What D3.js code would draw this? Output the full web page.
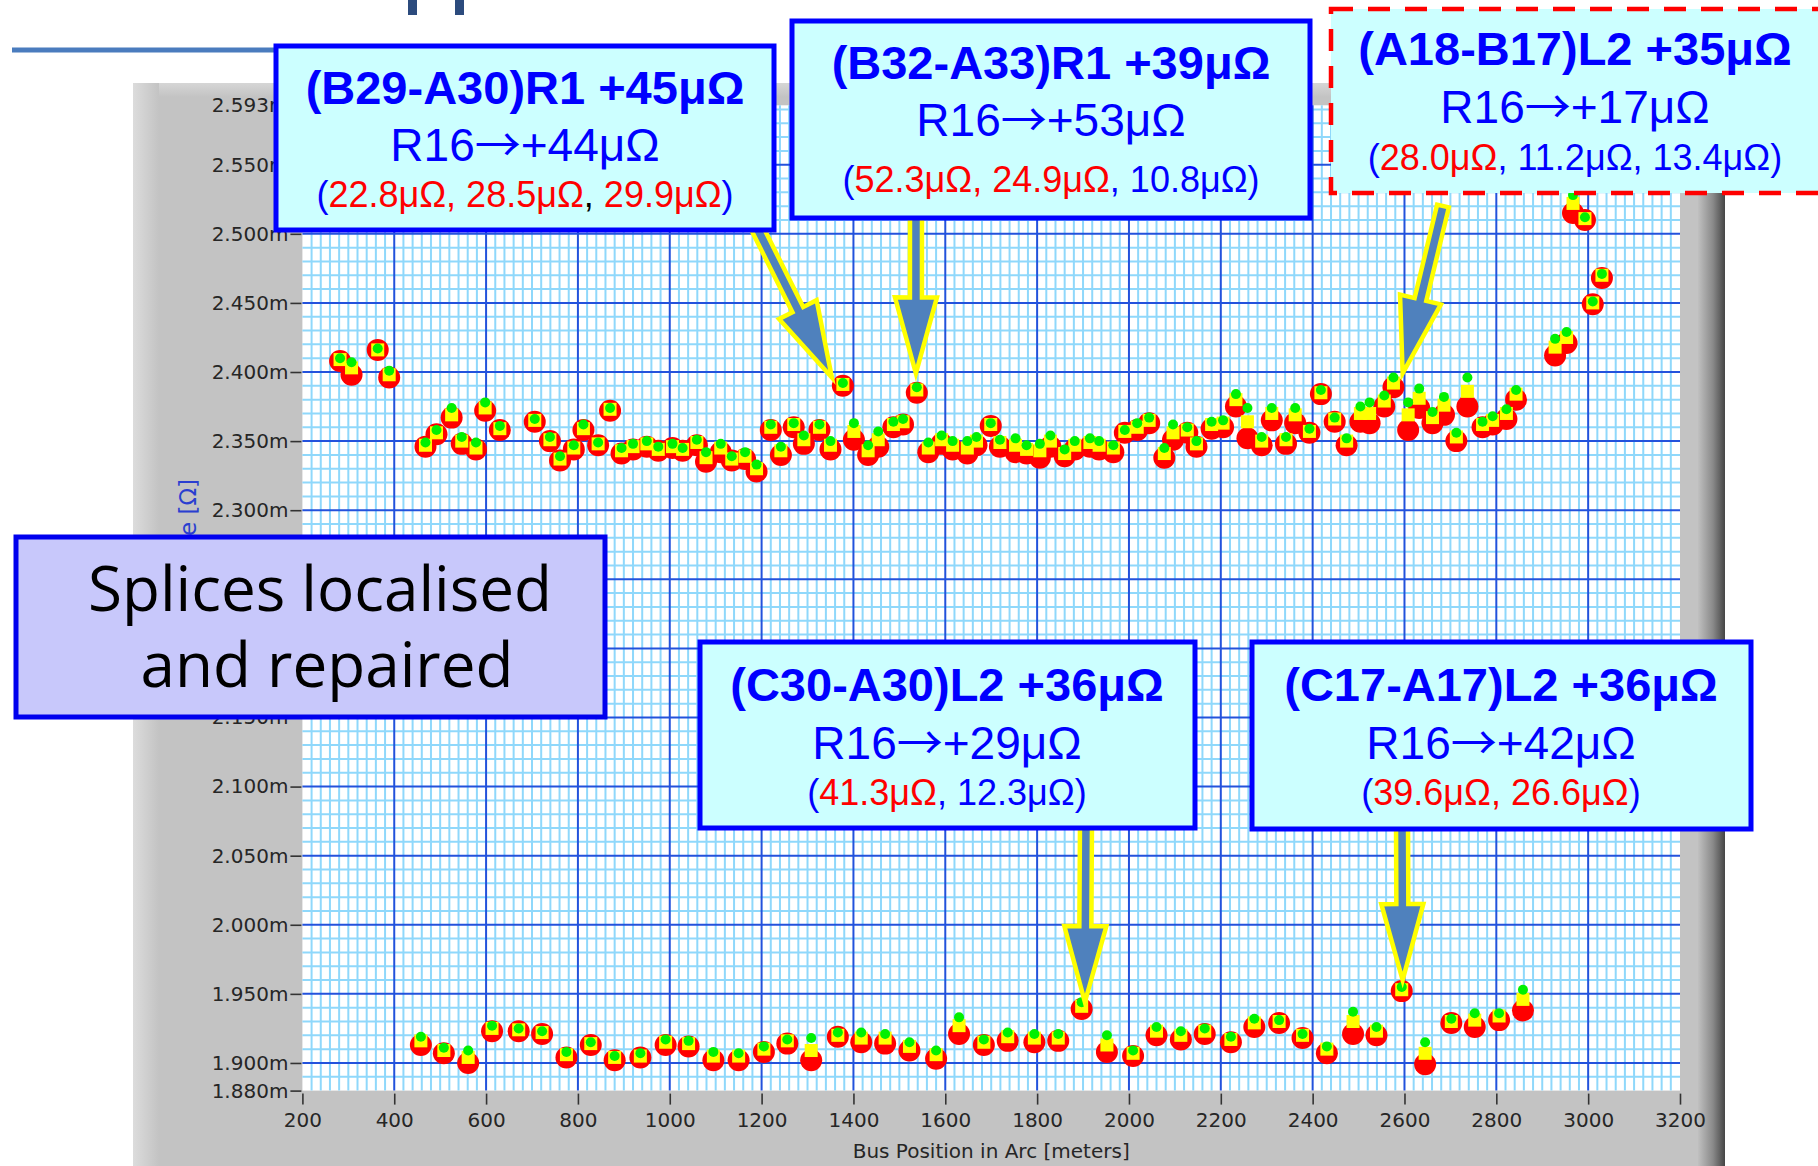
<!DOCTYPE html>
<html>
<head>
<meta charset="utf-8">
<script src="https://cdn.jsdelivr.net/npm/d3@7"></script>
<style>
  html, body { margin: 0; padding: 0; background: #fff; }
  svg { display: block; }
  text { white-space: pre; }
</style>
</head>
<body>
<svg id="chart" width="1818" height="1166"></svg>
<script>
// ---- Bus resistance per position (mΩ), three passes: red / yellow / green ----
// Upper band: R-line buses
const upperPos = [282,307,364,389,468,492,525,547,578,598,630,706,739,761,791,812,844,870,895,920,950,975,1006,1028,1059,1079,1111,1135,1164,1189,1220,1242,1270,1292,1326,1350,1377,1401,1432,1454,1487,1508,1538,1563,1592,1616,1648,1668,1699,1719,1753,1777,1806,1829,1860,1882,1915,1935,1966,1991,2018,2044,2077,2096,2127,2147,2180,2205,2233,2258,2289,2311,2342,2362,2393,2418,2448,2474,2504,2524,2556,2576,2608,2632,2661,2686,2713,2737,2770,2792,2822,2843,2928,2953,2967,2993,3010,3030];
const upperRed = [2.408,2.398,2.416,2.396,2.346,2.355,2.367,2.348,2.344,2.372,2.358,2.364,2.350,2.336,2.344,2.358,2.347,2.372,2.341,2.344,2.346,2.343,2.345,2.343,2.347,2.335,2.342,2.336,2.337,2.328,2.358,2.340,2.360,2.348,2.358,2.344,2.390,2.351,2.340,2.346,2.360,2.362,2.385,2.342,2.348,2.344,2.341,2.347,2.361,2.346,2.342,2.341,2.338,2.346,2.339,2.344,2.346,2.344,2.342,2.356,2.358,2.363,2.338,2.351,2.356,2.346,2.359,2.360,2.375,2.352,2.347,2.365,2.348,2.363,2.356,2.384,2.364,2.347,2.364,2.363,2.375,2.389,2.358,2.374,2.363,2.369,2.350,2.375,2.360,2.362,2.366,2.380,2.412,2.421,2.515,2.510,2.449,2.468];
const upperYellow = [2.409,2.403,2.416,2.398,2.347,2.356,2.369,2.350,2.345,2.374,2.359,2.365,2.351,2.337,2.345,2.359,2.348,2.373,2.343,2.346,2.348,2.344,2.346,2.344,2.349,2.338,2.345,2.337,2.339,2.330,2.360,2.343,2.362,2.351,2.360,2.347,2.391,2.357,2.343,2.351,2.362,2.364,2.387,2.345,2.351,2.347,2.345,2.350,2.362,2.349,2.347,2.344,2.343,2.350,2.341,2.347,2.349,2.347,2.345,2.357,2.360,2.365,2.341,2.356,2.358,2.348,2.362,2.363,2.380,2.364,2.350,2.370,2.351,2.369,2.357,2.385,2.366,2.350,2.370,2.370,2.379,2.392,2.369,2.381,2.367,2.376,2.353,2.386,2.362,2.365,2.370,2.384,2.418,2.425,2.522,2.511,2.450,2.470];
const upperGreen = [2.410,2.407,2.417,2.401,2.349,2.358,2.374,2.353,2.349,2.378,2.361,2.366,2.353,2.339,2.347,2.362,2.349,2.374,2.345,2.348,2.350,2.346,2.348,2.345,2.351,2.342,2.348,2.339,2.342,2.333,2.362,2.346,2.363,2.354,2.362,2.350,2.392,2.363,2.347,2.357,2.364,2.366,2.389,2.349,2.354,2.350,2.350,2.353,2.363,2.351,2.352,2.347,2.348,2.354,2.344,2.350,2.352,2.350,2.347,2.358,2.363,2.367,2.345,2.362,2.360,2.350,2.364,2.365,2.384,2.374,2.353,2.374,2.353,2.374,2.359,2.387,2.367,2.352,2.375,2.378,2.383,2.396,2.378,2.388,2.371,2.382,2.356,2.396,2.364,2.368,2.373,2.387,2.424,2.429,2.528,2.512,2.451,2.471];

// Lower band: cross-over line buses
const lowerPos = [458,508,561,613,671,722,775,828,880,936,991,1041,1095,1150,1205,1256,1308,1366,1417,1469,1522,1580,1630,1684,1736,1794,1846,1897,1952,2009,2060,2113,2165,2222,2273,2327,2378,2431,2488,2539,2594,2645,2702,2753,2806,2858];
const lowerRed = [1.913,1.907,1.900,1.923,1.923,1.921,1.904,1.913,1.902,1.904,1.913,1.912,1.902,1.902,1.908,1.914,1.902,1.919,1.915,1.914,1.909,1.903,1.921,1.913,1.916,1.915,1.916,1.939,1.908,1.905,1.920,1.917,1.921,1.915,1.926,1.929,1.918,1.907,1.921,1.920,1.952,1.899,1.929,1.926,1.931,1.938];
const lowerYellow = [1.916,1.909,1.904,1.925,1.924,1.922,1.906,1.914,1.904,1.905,1.915,1.914,1.905,1.905,1.910,1.916,1.909,1.920,1.918,1.918,1.912,1.906,1.927,1.915,1.919,1.918,1.918,1.941,1.913,1.907,1.923,1.920,1.923,1.917,1.929,1.930,1.920,1.910,1.930,1.923,1.953,1.907,1.930,1.931,1.934,1.946];
const lowerGreen = [1.919,1.911,1.909,1.927,1.925,1.923,1.908,1.915,1.905,1.907,1.917,1.916,1.908,1.907,1.912,1.917,1.918,1.922,1.922,1.921,1.915,1.909,1.933,1.917,1.922,1.921,1.921,1.944,1.920,1.909,1.926,1.923,1.925,1.919,1.932,1.931,1.921,1.912,1.937,1.926,1.955,1.915,1.932,1.936,1.936,1.953];

// Axis ticks
const xTickValues = [200,400,600,800,1000,1200,1400,1600,1800,2000,2200,2400,2600,2800,3000,3200];
const yTickValues = [1.880,1.900,1.950,2.000,2.050,2.100,2.150,2.200,2.250,2.300,2.350,2.400,2.450,2.500,2.550,2.593];

// Splices pointed at: [position m, resistance mΩ]
const arrowTargets = [[1353, 2.396], [1536, 2.399], [2596, 2.399], [1904, 1.944], [2596, 1.960]];

// Callout texts
const BLUE = "#0000ff", RED = "#ff0000";
const calloutTitles = ["(B29-A30)R1 +45μΩ", "(B32-A33)R1 +39μΩ", "(A18-B17)L2 +35μΩ", "(C30-A30)L2 +36μΩ", "(C17-A17)L2 +36μΩ"];
const calloutChanges = [["R16", "+44μΩ"], ["R16", "+53μΩ"], ["R16", "+17μΩ"], ["R16", "+29μΩ"], ["R16", "+42μΩ"]];
const calloutDetails = [
  [["(", BLUE], ["22.8μΩ, 28.5μΩ", RED], [",", "#000"], [" 29.9μΩ", RED], [")", BLUE]],
  [["(", BLUE], ["52.3μΩ, 24.9μΩ", RED], [", 10.8μΩ)", BLUE]],
  [["(", BLUE], ["28.0μΩ", RED], [", 11.2μΩ, 13.4μΩ)", BLUE]],
  [["(", BLUE], ["41.3μΩ", RED], [", 12.3μΩ)", BLUE]],
  [["(", BLUE], ["39.6μΩ, 26.6μΩ", RED], [")", BLUE]]
];

// ---------------------------------------------------------------------------
const svg = d3.select("#chart");
const x = d3.scaleLinear().domain([200, 3200]).range([302.4, 1680]);
const y = d3.scaleLinear().domain([1.88, 2.593]).range([1090.6, 105.3]);
const [px0, px1] = x.range();
const [py1, py0] = y.range();

const defs = svg.append("defs");
const gl = defs.append("linearGradient").attr("id", "panelLeft").attr("x1", 0).attr("x2", 1).attr("y1", 0).attr("y2", 0);
gl.append("stop").attr("offset", 0).attr("stop-color", "#dcdcdc");
gl.append("stop").attr("offset", 1).attr("stop-color", "#c3c3c3");
const gr = defs.append("linearGradient").attr("id", "panelRight").attr("x1", 0).attr("x2", 1).attr("y1", 0).attr("y2", 0);
gr.append("stop").attr("offset", 0).attr("stop-color", "#c0c0c0");
gr.append("stop").attr("offset", 0.55).attr("stop-color", "#8a8a8a");
gr.append("stop").attr("offset", 1).attr("stop-color", "#454545");
const gt = defs.append("linearGradient").attr("id", "panelTop").attr("x1", 0).attr("x2", 0).attr("y1", 0).attr("y2", 1);
gt.append("stop").attr("offset", 0).attr("stop-color", "#d6d6d6");
gt.append("stop").attr("offset", 1).attr("stop-color", "#c3c3c3");
defs.append("filter").attr("id", "glow").attr("x", "-5%").attr("y", "-200%").attr("width", "110%").attr("height", "500%")
  .append("feGaussianBlur").attr("stdDeviation", 4);

// Title underline and lettering stubs at the top of the slide
svg.append("line").attr("x1", 12).attr("x2", 700).attr("y1", 50).attr("y2", 50)
  .attr("stroke", "#b9cff0").attr("stroke-width", 16).attr("filter", "url(#glow)");
svg.append("line").attr("x1", 12).attr("x2", 700).attr("y1", 50).attr("y2", 50)
  .attr("stroke", "#4a7cbe").attr("stroke-width", 5);
svg.append("rect").attr("x", 408).attr("y", 0).attr("width", 9).attr("height", 15).attr("fill", "#2c4b7d");
svg.append("rect").attr("x", 455).attr("y", 0).attr("width", 9).attr("height", 15).attr("fill", "#2c4b7d");

// Graph panel
svg.append("rect").attr("x", 133).attr("y", 83).attr("width", 1592).attr("height", 1083).attr("fill", "#c3c3c3");
svg.append("rect").attr("x", 133).attr("y", 83).attr("width", 1592).attr("height", 14).attr("fill", "url(#panelTop)");
svg.append("rect").attr("x", 133).attr("y", 83).attr("width", 26).attr("height", 1083).attr("fill", "url(#panelLeft)");
svg.append("rect").attr("x", 1698).attr("y", 83).attr("width", 27).attr("height", 1083).attr("fill", "url(#panelRight)");

// Plot area and grid
svg.append("rect").attr("x", px0).attr("y", py0).attr("width", px1 - px0).attr("height", py1 - py0).attr("fill", "#fff");
const grid = svg.append("g");
const minorX = [], minorY = [];
for (let k = 11; k < 160; k++) if (k % 10 !== 0) minorX.push(k * 20);
for (let k = 189; k <= 259; k++) if (k % 5 !== 0) minorY.push(k / 100);
grid.selectAll(".mx").data(minorX).join("line")
  .attr("x1", d => x(d)).attr("x2", d => x(d)).attr("y1", py0).attr("y2", py1)
  .attr("stroke", "#8fd8fb").attr("stroke-width", 2);
grid.selectAll(".my").data(minorY).join("line")
  .attr("y1", d => y(d)).attr("y2", d => y(d)).attr("x1", px0).attr("x2", px1)
  .attr("stroke", "#8fd8fb").attr("stroke-width", 2);
const majorY = yTickValues.filter(v => v > 1.89 && v < 2.59);
grid.selectAll(".Mx").data(xTickValues.slice(1, -1)).join("line")
  .attr("x1", d => x(d)).attr("x2", d => x(d)).attr("y1", py0).attr("y2", py1)
  .attr("stroke", "#2352dc").attr("stroke-width", 2);
grid.selectAll(".My").data(majorY).join("line")
  .attr("y1", d => y(d)).attr("y2", d => y(d)).attr("x1", px0).attr("x2", px1)
  .attr("stroke", "#2352dc").attr("stroke-width", 2);

// Axes
const yAxis = svg.append("g").attr("transform", `translate(${px0 - 1},0)`)
  .call(d3.axisLeft(y).tickValues(yTickValues).tickFormat(d => d.toFixed(3) + "m").tickSize(11).tickPadding(2));
const xAxis = svg.append("g").attr("transform", `translate(0,${py1 + 3})`)
  .call(d3.axisBottom(x).tickValues(xTickValues).tickFormat(d3.format("d")).tickSize(11).tickPadding(8));
[yAxis, xAxis].forEach(a => {
  a.select(".domain").remove();
  a.selectAll(".tick line").attr("stroke", "#333").attr("stroke-width", 1.6);
  a.selectAll(".tick text").attr("fill", "#262626").style("font-family", "DejaVu Sans").style("font-size", "20px");
});

svg.append("text").attr("x", (px0 + px1) / 2).attr("y", 1158).attr("text-anchor", "middle")
  .attr("fill", "#262626").style("font-family", "DejaVu Sans").style("font-size", "20px")
  .text("Bus Position in Arc [meters]");
svg.append("text").attr("transform", "translate(196,479) rotate(-90)").attr("text-anchor", "end")
  .attr("fill", "#2a3ed0").style("font-family", "DejaVu Sans").style("font-size", "23px")
  .text("Resistance [Ω]");

// Markers: each pass drawn as its own plot
const allPos = upperPos.concat(lowerPos);
const redVals = upperRed.concat(lowerRed);
const yellowVals = upperYellow.concat(lowerYellow);
const greenVals = upperGreen.concat(lowerGreen);
const marks = svg.append("g");
marks.selectAll(".r").data(allPos).join("circle")
  .attr("cx", d => x(d)).attr("cy", (d, i) => y(redVals[i])).attr("r", 11).attr("fill", "#ff0000");
marks.selectAll(".s").data(allPos).join("rect")
  .attr("x", d => x(d) - 6.5).attr("y", (d, i) => y(yellowVals[i]) - 6.5)
  .attr("width", 13).attr("height", 13).attr("fill", "#ffff00");
marks.selectAll(".g").data(allPos).join("circle")
  .attr("cx", d => x(d)).attr("cy", (d, i) => y(greenVals[i])).attr("r", 5).attr("fill", "#00f000");

// Block arrows from callouts to the splices
function blockArrow(sx, sy, tx, ty) {
  const dx = tx - sx, dy = ty - sy, L = Math.hypot(dx, dy);
  const ux = dx / L, uy = dy / L, nx = -uy, ny = ux;
  const w = 6, hw = 21, hl = 76;
  const bx = tx - ux * hl, by = ty - uy * hl;
  return [
    [sx + nx * w, sy + ny * w], [bx + nx * w, by + ny * w], [bx + nx * hw, by + ny * hw],
    [tx, ty],
    [bx - nx * hw, by - ny * hw], [bx - nx * w, by - ny * w], [sx - nx * w, sy - ny * w]
  ];
}
const arrowStarts = [[754, 222], [916, 205], [1443, 206], [1086, 820], [1402, 820]];
svg.append("g").selectAll("polygon").data(arrowTargets).join("polygon")
  .attr("points", (d, i) => blockArrow(arrowStarts[i][0], arrowStarts[i][1], x(d[0]), y(d[1])).map(p => p.join(",")).join(" "))
  .attr("fill", "#4f81bd").attr("stroke", "#ffff00").attr("stroke-width", 4.5).attr("stroke-linejoin", "miter");

// Callout boxes
const boxes = [
  { x: 276, y: 46, w: 498, h: 184, cx: 525, b: [104, 161, 207] },
  { x: 792, y: 21, w: 518, h: 197, cx: 1051, b: [79, 136, 192] },
  { x: 1331, y: 9, w: 540, h: 184, cx: 1575, b: [65, 123, 170], dashed: true },
  { x: 700, y: 642, w: 495, h: 186, cx: 947, b: [701, 759, 805] },
  { x: 1252, y: 642, w: 499, h: 187, cx: 1501, b: [701, 759, 805] }
];
const sans = "Liberation Sans, Arial, sans-serif";
boxes.forEach((bx, i) => {
  const g = svg.append("g");
  g.append("rect").attr("x", bx.x).attr("y", bx.y).attr("width", bx.w).attr("height", bx.h)
    .attr("fill", "#ccffff")
    .attr("stroke", bx.dashed ? "#ff0000" : "#0000ff").attr("stroke-width", bx.dashed ? 4.5 : 5)
    .attr("stroke-dasharray", bx.dashed ? "22,15" : null);
  g.append("text").attr("x", bx.cx).attr("y", bx.b[0]).attr("text-anchor", "middle")
    .attr("fill", BLUE).style("font-family", sans).style("font-weight", "bold").style("font-size", "47px")
    .text(calloutTitles[i]);
  const c = g.append("text").attr("x", bx.cx).attr("y", bx.b[1]).attr("text-anchor", "middle")
    .attr("fill", BLUE).style("font-family", sans).style("font-size", "46px");
  c.append("tspan").text(calloutChanges[i][0]);
  c.append("tspan").style("font-family", "Noto Sans CJK JP").text("→");
  c.append("tspan").text(calloutChanges[i][1]);
  const t = g.append("text").attr("x", bx.cx).attr("y", bx.b[2]).attr("text-anchor", "middle")
    .style("font-family", sans).style("font-size", "36px");
  calloutDetails[i].forEach(([s, col]) => t.append("tspan").attr("fill", col).text(s));
});

// Summary box
svg.append("rect").attr("x", 16).attr("y", 537).attr("width", 589).attr("height", 180)
  .attr("fill", "#c8c8fb").attr("stroke", "#0000ee").attr("stroke-width", 5);
const note = svg.append("text").attr("text-anchor", "middle").attr("fill", "#000")
  .style("font-family", "Open Sans, sans-serif").style("font-size", "62px");
note.append("tspan").attr("x", 320).attr("y", 611).text("Splices localised");
note.append("tspan").attr("x", 327).attr("y", 687).text("and repaired");
</script>
</body>
</html>
